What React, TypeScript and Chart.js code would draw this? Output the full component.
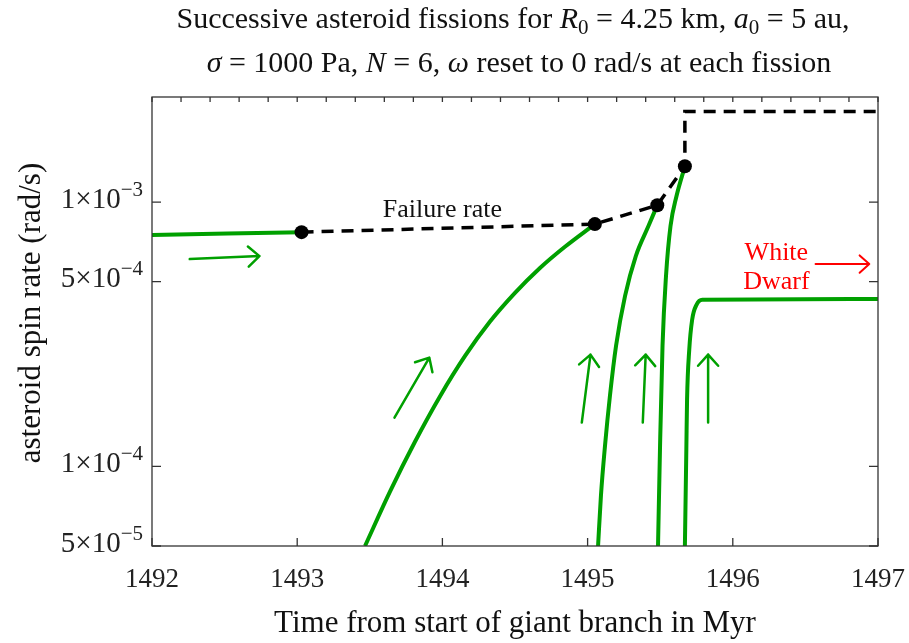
import React, { useEffect, useRef } from 'react';
import { Chart, registerables } from 'chart.js';
Chart.register(...registerables);

// ---- data ----
const xTickValues = [1492, 1493, 1494, 1495, 1496, 1497];
const yTickValues = [5e-5, 1e-4, 5e-4, 1e-3];
const yTickMantissa = ['5', '1', '5', '1'];
const yTickExponent = ['−5', '−4', '−4', '−3'];

// initial spin-up before first fission
const spin1T = [1492, 1493.03];
const spin1W = [7.51e-4, 7.7e-4];

// failure rate (dashed) with fission points
const failT = [1493.03, 1495.05, 1495.48, 1495.67, 1495.67, 1497];
const failW = [7.7e-4, 8.26e-4, 9.74e-4, 1.367e-3, 2.205e-3, 2.205e-3];
const failDot = [1, 1, 1, 1, 0, 0];

// spin-up after fission 1
const spin2T = [1493.467, 1493.639, 1493.811, 1493.983, 1494.156, 1494.328, 1494.5, 1494.672, 1494.844, 1495.05];
const spin2W = [5.0e-5, 8.03e-5, 1.24e-4, 1.841e-4, 2.618e-4, 3.532e-4, 4.535e-4, 5.635e-4, 6.78e-4, 8.26e-4];

// spin-up after fission 2
const spin3T = [1495.072, 1495.092, 1495.12, 1495.154, 1495.196, 1495.258, 1495.332, 1495.419, 1495.48];
const spin3W = [5.0e-5, 7.77e-5, 1.2e-4, 1.853e-4, 2.862e-4, 4.418e-4, 6.255e-4, 8.12e-4, 9.74e-4];

// spin-up after fission 3
const spin4T = [1495.485, 1495.499, 1495.516, 1495.54, 1495.571, 1495.612, 1495.67];
const spin4W = [5.0e-5, 1.2e-4, 2.862e-4, 5.257e-4, 8.12e-4, 1.053e-3, 1.367e-3];

// spin-up after fission 4 (white dwarf plateau)
const spin5T = [1495.67, 1495.68, 1495.685, 1495.7, 1495.72, 1495.75, 1495.79, 1497];
const spin5W = [5.0e-5, 1.159e-4, 1.79e-4, 2.76e-4, 3.59e-4, 4.09e-4, 4.27e-4, 4.3e-4];

// annotation arrows (data coordinates): [x0, y0, x1, y1]
const greenArrows = [
  [1492.26, 6.09e-4, 1492.74, 6.25e-4],
  [1493.67, 1.53e-4, 1493.91, 2.58e-4],
  [1494.96, 1.466e-4, 1495.02, 2.65e-4],
  [1495.38, 1.466e-4, 1495.4, 2.65e-4],
  [1495.83, 1.466e-4, 1495.83, 2.65e-4],
];
const redArrow = [1496.57, 5.83e-4, 1496.94, 5.83e-4];

const failureLabel = { text: 'Failure rate', x: 1494.0, y: 9.33e-4 };
const wdLabel = { lines: ['White', 'Dwarf'], x: 1496.3, y: [6.42e-4, 4.99e-4] };

const titleLine1 = [
  { t: 'Successive asteroid fissions for ', s: 'n' },
  { t: 'R', s: 'i' },
  { t: '0', s: 'sub' },
  { t: ' = 4.25 km, ', s: 'n' },
  { t: 'a', s: 'i' },
  { t: '0', s: 'sub' },
  { t: ' = 5 au,', s: 'n' },
];
const titleLine2 = [
  { t: 'σ', s: 'i' },
  { t: ' = 1000 Pa, ', s: 'n' },
  { t: 'N', s: 'i' },
  { t: ' = 6, ', s: 'n' },
  { t: 'ω', s: 'i' },
  { t: ' reset to 0 rad/s at each fission', s: 'n' },
];
const xTitle = 'Time from start of giant branch in Myr';
const yTitle = 'asteroid spin rate (rad/s)';

const FONT = '"Liberation Serif", "DejaVu Serif", serif';
const GREEN = '#00a000';

const pts = (T: number[], W: number[]) => T.map((t, i) => ({ x: t, y: W[i] }));

function drawRuns(ctx: CanvasRenderingContext2D, runs: { t: string; s: string }[], cx: number, base: number, size: number) {
  const fontFor = (s: string) =>
    s === 'i' ? `italic ${size}px ${FONT}` : s === 'sub' ? `${Math.round(size * 0.7)}px ${FONT}` : `${size}px ${FONT}`;
  let total = 0;
  const widths = runs.map((r) => {
    ctx.font = fontFor(r.s);
    const w = ctx.measureText(r.t).width;
    total += w;
    return w;
  });
  let x = cx - total / 2;
  ctx.textAlign = 'left';
  ctx.textBaseline = 'alphabetic';
  runs.forEach((r, i) => {
    ctx.font = fontFor(r.s);
    ctx.fillText(r.t, x, r.s === 'sub' ? base + size * 0.2 : base);
    x += widths[i];
  });
}

function drawArrow(ctx: CanvasRenderingContext2D, x0: number, y0: number, x1: number, y1: number, color: string, lw: number, head: number) {
  ctx.save();
  ctx.strokeStyle = color;
  ctx.lineWidth = lw;
  ctx.lineCap = 'round';
  ctx.lineJoin = 'round';
  ctx.beginPath();
  ctx.moveTo(x0, y0);
  ctx.lineTo(x1, y1);
  const a = Math.atan2(y1 - y0, x1 - x0);
  const ha = (42 * Math.PI) / 180;
  ctx.moveTo(x1 - head * Math.cos(a - ha), y1 - head * Math.sin(a - ha));
  ctx.lineTo(x1, y1);
  ctx.lineTo(x1 - head * Math.cos(a + ha), y1 - head * Math.sin(a + ha));
  ctx.stroke();
  ctx.restore();
}

const deco = {
  id: 'deco',
  afterDatasetsDraw(chart: any) {
    const ctx: CanvasRenderingContext2D = chart.ctx;
    const xs = chart.scales.x;
    const ys = chart.scales.y;
    greenArrows.forEach((a) =>
      drawArrow(ctx, xs.getPixelForValue(a[0]), ys.getPixelForValue(a[1]), xs.getPixelForValue(a[2]), ys.getPixelForValue(a[3]), GREEN, 2.5, 15)
    );
    drawArrow(ctx, xs.getPixelForValue(redArrow[0]), ys.getPixelForValue(redArrow[1]), xs.getPixelForValue(redArrow[2]), ys.getPixelForValue(redArrow[3]), '#ff0000', 2, 13);

    ctx.save();
    ctx.fillStyle = '#111';
    ctx.font = `26px ${FONT}`;
    ctx.textAlign = 'center';
    ctx.textBaseline = 'middle';
    ctx.fillText(failureLabel.text, xs.getPixelForValue(failureLabel.x), ys.getPixelForValue(failureLabel.y));
    ctx.fillStyle = '#ff0000';
    wdLabel.lines.forEach((l, i) => ctx.fillText(l, xs.getPixelForValue(wdLabel.x), ys.getPixelForValue(wdLabel.y[i])));
    ctx.restore();
  },
  afterDraw(chart: any) {
    const ctx: CanvasRenderingContext2D = chart.ctx;
    const { left, right, top, bottom } = chart.chartArea;
    const xs = chart.scales.x;
    const ys = chart.scales.y;
    ctx.save();
    // frame
    ctx.strokeStyle = '#333';
    ctx.lineWidth = 1.3;
    ctx.strokeRect(left, top, right - left, bottom - top);
    // x ticks: bottom at integers, top every 0.2
    ctx.beginPath();
    xTickValues.forEach((v) => {
      const px = xs.getPixelForValue(v);
      ctx.moveTo(px, bottom);
      ctx.lineTo(px, bottom - 8);
    });
    for (let i = 0; i <= 25; i++) {
      const px = xs.getPixelForValue(xTickValues[0] + i * 0.2);
      ctx.moveTo(px, top);
      ctx.lineTo(px, top + 5);
    }
    yTickValues.forEach((v) => {
      const py = ys.getPixelForValue(v);
      ctx.moveTo(left, py);
      ctx.lineTo(left + 9, py);
      ctx.moveTo(right, py);
      ctx.lineTo(right - 9, py);
    });
    ctx.stroke();

    // y tick labels with superscript exponents
    ctx.fillStyle = '#222';
    yTickValues.forEach((v, i) => {
      const py = ys.getPixelForValue(v);
      const main = yTickMantissa[i] + '×10';
      const sup = yTickExponent[i];
      ctx.font = `21px ${FONT}`;
      const ws = ctx.measureText(sup).width;
      ctx.font = `29px ${FONT}`;
      const wm = ctx.measureText(main).width;
      const rx = left - 9;
      ctx.textAlign = 'left';
      ctx.textBaseline = 'middle';
      ctx.fillText(main, rx - ws - wm, py - 2);
      ctx.font = `21px ${FONT}`;
      ctx.fillText(sup, rx - ws, py - 12);
    });

    // axis titles
    ctx.fillStyle = '#111';
    ctx.font = `31px ${FONT}`;
    ctx.textAlign = 'center';
    ctx.textBaseline = 'middle';
    ctx.fillText(xTitle, 515, 624);
    ctx.save();
    ctx.translate(32, 313);
    ctx.rotate(-Math.PI / 2);
    ctx.fillText(yTitle, 0, 0);
    ctx.restore();

    // title
    ctx.fillStyle = '#111';
    drawRuns(ctx, titleLine1, 513, 28, 30);
    drawRuns(ctx, titleLine2, 519, 72, 30);
    ctx.restore();
  },
};

export default function App() {
  const ref = useRef<HTMLCanvasElement>(null);
  useEffect(() => {
    const canvas = ref.current!;
    const green = (T: number[], W: number[]) => ({
      data: pts(T, W),
      showLine: true,
      borderColor: GREEN,
      backgroundColor: GREEN,
      borderWidth: 4,
      pointRadius: 0,
      cubicInterpolationMode: 'monotone' as const,
      fill: false,
      order: 2,
    });
    const chart = new Chart(canvas, {
      type: 'scatter',
      data: {
        datasets: [
          {
            data: pts(failT, failW),
            showLine: true,
            borderColor: '#000',
            backgroundColor: '#000',
            borderWidth: 3.5,
            borderDash: [12, 8],
            borderJoinStyle: 'miter',
            pointRadius: failDot.map((d) => (d ? 7 : 0)),
            pointBorderWidth: 0,
            tension: 0,
            order: 1,
          } as any,
          green(spin1T, spin1W),
          green(spin2T, spin2W),
          green(spin3T, spin3W),
          green(spin4T, spin4W),
          green(spin5T, spin5W),
        ],
      },
      options: {
        responsive: false,
        animation: false,
        events: [],
        layout: { padding: { top: 97, right: 31, left: 0, bottom: 0 } },
        plugins: { legend: { display: false }, tooltip: { enabled: false }, title: { display: false } },
        scales: {
          x: {
            type: 'linear',
            min: 1492,
            max: 1497,
            grid: { display: false },
            border: { display: false },
            afterBuildTicks: (s: any) => {
              s.ticks = xTickValues.map((v) => ({ value: v }));
            },
            afterFit: (s: any) => {
              s.height = 97;
              s.paddingLeft = 0;
              s.paddingRight = 0;
            },
            ticks: {
              color: '#222',
              font: { family: FONT, size: 27 },
              padding: 10,
              maxRotation: 0,
              autoSkip: false,
              callback: (v: any) => String(v),
            },
          },
          y: {
            type: 'logarithmic',
            min: 5e-5,
            max: 2.5e-3,
            grid: { display: false },
            border: { display: false },
            afterBuildTicks: (s: any) => {
              s.ticks = yTickValues.map((v) => ({ value: v }));
            },
            afterFit: (s: any) => {
              s.width = 152;
              s.paddingTop = 0;
              s.paddingBottom = 0;
            },
            ticks: { display: false },
          },
        },
      },
      plugins: [deco],
    });
    return () => chart.destroy();
  }, []);
  return (
    <div style={{ position: 'fixed', left: 0, top: 0, width: 909, height: 643, background: '#fff' }}>
      <canvas ref={ref} width={909} height={643} />
    </div>
  );
}
